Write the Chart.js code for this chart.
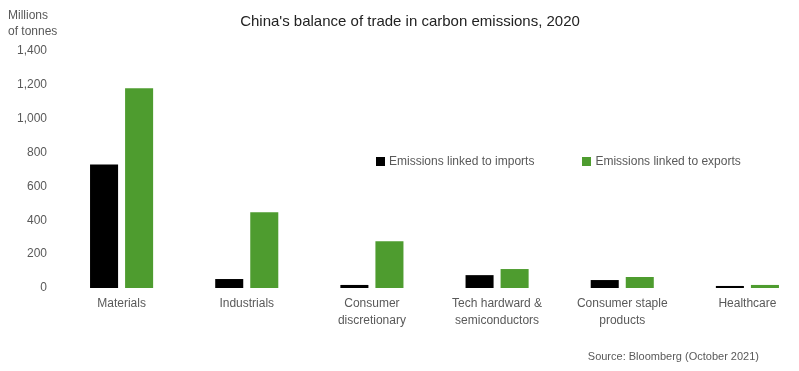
<!DOCTYPE html>
<html>
<head>
<meta charset="utf-8">
<script src="https://cdn.jsdelivr.net/npm/chart.js@4/dist/chart.umd.min.js"></script>
<style>
  html, body { margin: 0; padding: 0; background: #fff; overflow: hidden; }
  body { width: 799px; height: 371px; position: relative; font-family: "Liberation Sans", Arial, sans-serif; }
  #wrap { position: absolute; left: 0; top: 0; width: 810px; height: 371px; }
  .txt { position: absolute; color: #595959; font-size: 12px; white-space: nowrap; }
  #title { left: 0; width: 820px; top: 12px; text-align: center; color: #222; font-size: 15px; }
  #unit { left: 8px; top: 7px; line-height: 16px; }
  #legend { left: 376px; top: 154px; }
  #legend span.sw { display: inline-block; width: 9px; height: 9px; margin-right: 4px; vertical-align: -1px; }
  #source { right: 40px; top: 350px; font-size: 11px; }
</style>
</head>
<body>
<div id="wrap"><canvas id="grafico"></canvas></div>
<div class="txt" id="title">China's balance of trade in carbon emissions, 2020</div>
<div class="txt" id="unit">Millions<br>of tonnes</div>
<div class="txt" id="legend"></div>
<div class="txt" id="source">Source: Bloomberg (October 2021)</div>
<script>
// dados
const categorias = [
  ['Materials'],
  ['Industrials'],
  ['Consumer', 'discretionary'],
  ['Tech hardward &', 'semiconductors'],
  ['Consumer staple', 'products'],
  ['Healthcare']
];
const importacoes = [729, 53, 18, 76, 47, 12];
const exportacoes = [1180, 447, 276, 112, 65, 18];
const nomesSeries = ['Emissions linked to imports', 'Emissions linked to exports'];
const coresSeries = ['#000000', '#4e9c2f'];

// legenda em html
const leg = document.getElementById('legend');
leg.innerHTML = nomesSeries.map((n, i) =>
  '<span style="margin-right:' + (i == 0 ? 48 : 0) + 'px"><span class="sw" style="background:' + coresSeries[i] + '"></span>' + n + '</span>'
).join('');

const contexto = document.getElementById('grafico').getContext('2d');
const opcoes = {
  responsive: true,
  maintainAspectRatio: false,
  animation: false,
  layout: { padding: { top: 51, left: 0, right: 0, bottom: 0 } },
  plugins: {
    legend: { display: false },
    tooltip: { enabled: false }
  },
  scales: {
    x: {
      grid: { display: false, drawTicks: false },
      border: { display: false },
      ticks: {
        color: '#595959',
        font: { family: 'Liberation Sans', size: 12, lineHeight: 1.4 },
        padding: 7,
        maxRotation: 0,
        autoSkip: false
      },
      afterFit: s => { s.height = 83; }
    },
    y: {
      min: 0,
      max: 1400,
      grid: { display: false, drawTicks: false },
      border: { display: false },
      ticks: {
        stepSize: 200,
        color: '#595959',
        font: { family: 'Liberation Sans', size: 12 },
        padding: 12,
        callback: v => v.toLocaleString('en-US')
      },
      afterFit: s => { s.width = 59; }
    }
  }
};

new Chart(contexto, {
  type: 'bar',
  data: {
    labels: categorias,
    datasets: [
      { label: nomesSeries[0], data: importacoes, backgroundColor: coresSeries[0] },
      { label: nomesSeries[1], data: exportacoes, backgroundColor: coresSeries[1] }
    ]
  },
  options: Object.assign(opcoes, {
    datasets: { bar: { categoryPercentage: 0.56, barPercentage: 0.8 } }
  })
});
</script>
</body>
</html>
